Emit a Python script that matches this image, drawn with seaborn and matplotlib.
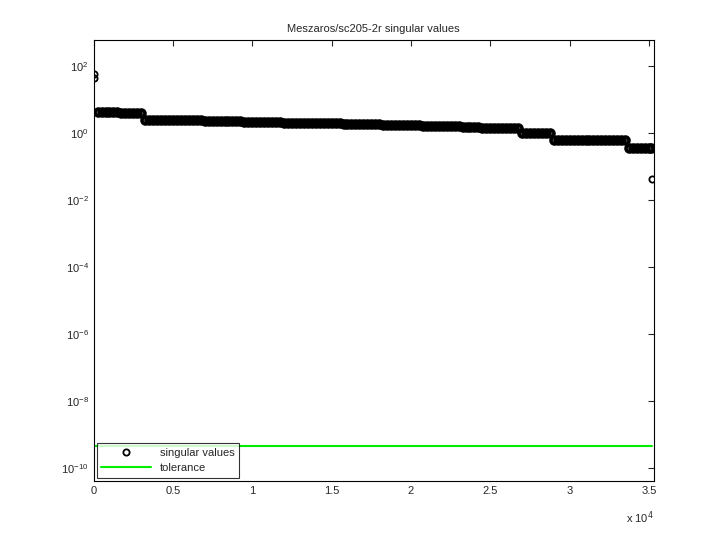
import numpy as np
import matplotlib
matplotlib.use("Agg")
import matplotlib.pyplot as plt
import seaborn as sns

sns.set_style("white")
plt.rcParams['font.family'] = ['Liberation Sans', 'DejaVu Sans']

top_idx = [0, 30]
top_val = [60.0, 43.0]
plat1a = [4.3] * 6
plat1b = [3.9] * 6
seg2_chunks = [2.45, 2.42, 2.38, 2.30, 2.25, 2.20, 2.12, 2.05, 2.00, 1.95,
               1.90, 1.85, 1.80, 1.74, 1.68, 1.62, 1.55, 1.45, 1.38]
seg3 = [0.98] * 8
seg4 = [0.62] * 19
seg5 = [0.37] * 7
last_idx = [35200]
last_val = [0.043]
tolerance = 4.5e-10
n_sv = 35213

seg2 = np.repeat(seg2_chunks, 5)
idx = np.concatenate([top_idx, np.arange(250, 1750, 250), np.arange(1750, 3250, 250),
                      np.arange(3250, 27000, 250), np.arange(27000, 29000, 250),
                      np.arange(29000, 33750, 250), [33750, 34000, 34250, 34500, 34750, 35000, 35150],
                      last_idx])
val = np.concatenate([top_val, plat1a, plat1b, seg2, seg3, seg4, seg5, last_val])

fig, ax = plt.subplots(figsize=(7.2, 5.4), dpi=100)
fig.subplots_adjust(left=0.13, right=0.908, top=0.926, bottom=0.109)
# dense band: thick-edged circles
ax.plot(idx[2:-1], val[2:-1], linestyle='none', marker='o', markersize=5,
        markerfacecolor='none', markeredgecolor='black', markeredgewidth=2.6)
sns.lineplot(x=[idx[0], idx[1], idx[-1]], y=[val[0], val[1], val[-1]], ax=ax,
             linestyle='none', marker='o', markersize=4.5, markerfacecolor='none',
             markeredgecolor='black', markeredgewidth=1.3, label='singular values')
ax.plot([0, n_sv], [tolerance, tolerance], color='#00ee00', lw=1.5, label='tolerance')
ax.set_yscale('log')
ax.set_ylim(10**-10.39, 10**2.78)
ax.set_xlim(0, 35300)
ax.set_yticks([10.0**k for k in range(-10, 3, 2)])
ax.set_xticks(np.arange(0, 35001, 5000))
ax.set_xticklabels(['0', '0.5', '1', '1.5', '2', '2.5', '3', '3.5'])
ax.minorticks_off()
ax.tick_params(direction='in', top=True, right=True, labelsize=8, length=4)
for s in ax.spines.values():
    s.set_color('black')
    s.set_linewidth(0.8)
ax.set_title('Meszaros/sc205-2r singular values', fontsize=8)
ax.text(1.0, -0.065, r'x 10$^4$', transform=ax.transAxes, ha='right', va='top', fontsize=8)
leg = ax.legend(loc='lower left', fontsize=8, frameon=True, fancybox=False,
                edgecolor='black', borderaxespad=0.3, handlelength=4.5)
leg.get_frame().set_linewidth(0.8)
fig.savefig('out.png', dpi=100)
